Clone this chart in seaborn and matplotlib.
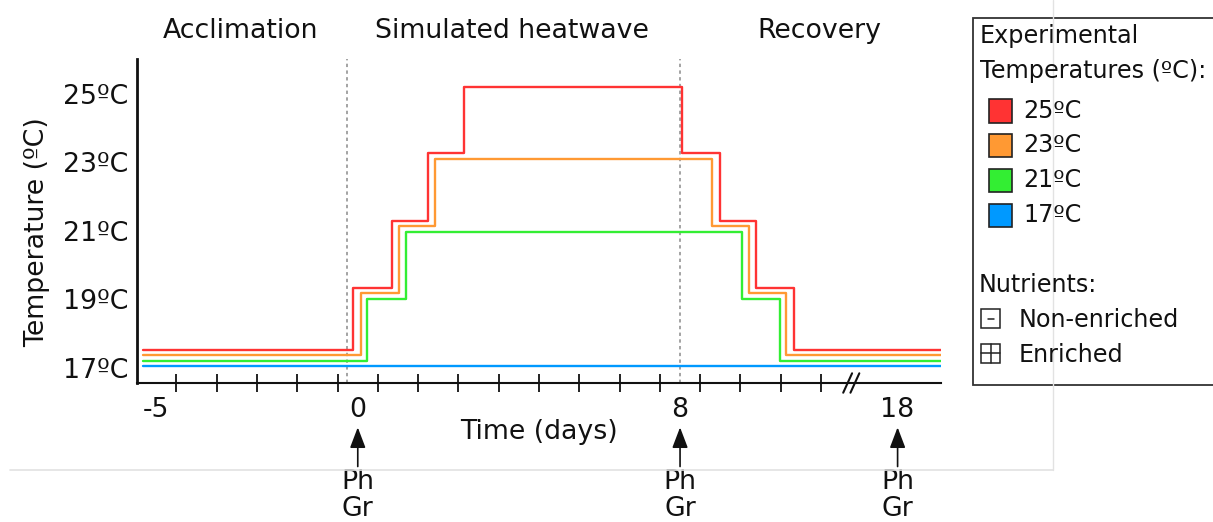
import matplotlib
matplotlib.use("Agg")
import matplotlib.pyplot as plt
from matplotlib.lines import Line2D
from matplotlib.patches import Rectangle
import numpy as np
import pandas as pd
import seaborn as sns

# ---- temperature schedules (x in days, y in ºC as drawn, steps-post) ----
red_day = [-5.33, -0.12, 0.84, 1.74, 2.64, 8.06, 8.98, 9.88, 10.83, 14.47]
red_temp = [17.53, 19.34, 21.29, 23.27, 25.21, 23.27, 21.29, 19.34, 17.53, 17.53]
orange_day = [-5.33, 0.07, 1.02, 1.91, 8.80, 9.72, 10.64, 14.47]
orange_temp = [17.38, 19.18, 21.15, 23.09, 21.15, 19.18, 17.38, 17.38]
green_day = [-5.33, 0.24, 1.20, 9.53, 10.47, 14.47]
green_temp = [17.21, 19.02, 20.96, 19.02, 17.21, 17.21]
blue_day = [-5.33, 14.47]
blue_temp = [17.06, 17.06]

series_names = ["25ºC", "23ºC", "21ºC", "17ºC"]
series_colors = ["#ff3333", "#ff9933", "#33ee33", "#0099ff"]

# axis labelling
ytick_vals = [17, 19, 21, 23, 25]
ytick_labels = ["17ºC", "19ºC", "21ºC", "23ºC", "25ºC"]
xtick_pos = [-5, 0, 8, 13.4]
xtick_labels = ["-5", "0", "8", "18"]
minor_tick_pos = np.arange(-4.5, 12.0, 1.0)
phase_lines = [-0.27, 7.99]
phases = ["Acclimation", "Simulated heatwave", "Recovery"]
phase_centers = [-2.90, 3.82, 11.45]
sampling_days = [0, 8, 13.4]
break_pos = 12.25

frames = []
for name, d, t in zip(series_names,
                      [red_day, orange_day, green_day, blue_day],
                      [red_temp, orange_temp, green_temp, blue_temp]):
    frames.append(pd.DataFrame({"day": d, "temp": t, "series": name}))
df = pd.concat(frames, ignore_index=True)

sns.set_theme(style="white")
plt.rcParams["font.family"] = ["DejaVu Sans"]
plt.rcParams["text.color"] = "#111111"

FS = 19.3
FS_KEY = 17.2

W, H = 1213, 522
fig = plt.figure(figsize=(W / 100, H / 100), dpi=100)
fig.patch.set_facecolor("white")


def fx(px):
    return px / W


def fy(py):
    return 1 - py / H


ax = fig.add_axes([fx(137), fy(383), fx(940.7) - fx(137), fy(59.3) - fy(383)])
ax.set_facecolor("white")

sns.lineplot(data=df, x="day", y="temp", hue="series", hue_order=series_names,
             palette=dict(zip(series_names, series_colors)), estimator=None,
             sort=False, drawstyle="steps-post", linewidth=1.7, legend=False,
             ax=ax, zorder=3)

ax.set_xlim(-5.48, 14.47)
ax.set_ylim(16.56, 26.01)

for xv in phase_lines:
    ax.axvline(xv, color="#8a8a8a", lw=1.1, ls=(0, (2.2, 2.2)), zorder=2)

for s in ["top", "right"]:
    ax.spines[s].set_visible(False)
ax.spines["left"].set_linewidth(2.0)
ax.spines["bottom"].set_linewidth(1.5)
ax.spines["left"].set_color("#111111")
ax.spines["bottom"].set_color("#111111")

ax.set_yticks(ytick_vals)
ax.set_yticklabels(ytick_labels)
ax.tick_params(axis="y", left=False, length=0, pad=6, labelsize=FS,
               labelcolor="#111111")

ax.set_xticks(xtick_pos)
ax.set_xticklabels(xtick_labels)
ax.set_xticks(minor_tick_pos, minor=True)
ax.tick_params(axis="x", which="major", bottom=True, length=0, pad=10,
               labelsize=FS, labelcolor="#111111")
ax.tick_params(axis="x", which="minor", bottom=True, length=13.5, width=1.3,
               direction="inout", color="#111111")

ax.set_xlabel("Time (days)", fontsize=FS, color="#111111")
ax.xaxis.set_label_coords(0.5, -0.110)
ax.set_ylabel("Temperature (ºC)", fontsize=FS, color="#111111")
ax.yaxis.set_label_coords(-0.108, 0.467)

# axis break mark
xt = ax.get_xaxis_transform()
for off in (-0.09, 0.09):
    ax.plot([break_pos + off - 0.11, break_pos + off + 0.11], [-0.03, 0.03],
            transform=xt, color="#111111", lw=1.5, clip_on=False, zorder=5)

# phase titles
for name, xc in zip(phases, phase_centers):
    ax.text(xc, 1.087, name, transform=xt, ha="center", va="center",
            fontsize=FS, color="#111111")

# sampling arrows
for xs in sampling_days:
    ax.annotate("", xy=(xs, -0.137), xycoords=xt, xytext=(xs, -0.258),
                textcoords=xt,
                arrowprops=dict(arrowstyle="-|>,head_length=1.05,head_width=0.4",
                                color="#111111", lw=1.2, shrinkA=0, shrinkB=0),
                annotation_clip=False)
    ax.text(xs, -0.305, "Ph", transform=xt, ha="center", va="center",
            fontsize=FS, color="#111111")
    ax.text(xs, -0.388, "Gr", transform=xt, ha="center", va="center",
            fontsize=FS, color="#111111")

# faint outer frame
fig.add_artist(Line2D([fx(10), fx(1053)], [fy(470), fy(470)], color="#e2e2e2",
                      lw=1.2))
fig.add_artist(Line2D([fx(1053), fx(1053)], [fy(0), fy(470)], color="#e2e2e2",
                      lw=1.0))

# key panel
fig.add_artist(Rectangle((fx(973), fy(385)), fx(1240) - fx(973),
                         fy(18) - fy(385), transform=fig.transFigure,
                         facecolor="white", edgecolor="#333333", lw=1.3,
                         zorder=1))
fig.text(fx(980), fy(36), "Experimental", ha="left", va="center",
         fontsize=FS_KEY, zorder=3)
fig.text(fx(980), fy(71), "Temperatures (ºC):", ha="left", va="center",
         fontsize=FS_KEY, zorder=3)
key_y = [111, 145.5, 180.5, 215.5]
for name, col, yc in zip(series_names, series_colors, key_y):
    fig.add_artist(Rectangle((fx(989), fy(yc + 11.5)), fx(23), 23 / H,
                             transform=fig.transFigure, facecolor=col,
                             edgecolor="#222222", lw=1.2, zorder=3))
    fig.text(fx(1023), fy(yc), name, ha="left", va="center", fontsize=FS_KEY,
             zorder=3)

fig.text(fx(979), fy(285), "Nutrients:", ha="left", va="center",
         fontsize=FS_KEY, zorder=3)
for yc, label, plus in [(318.5, "Non-enriched", False), (353, "Enriched", True)]:
    fig.add_artist(Rectangle((fx(981), fy(yc + 9.5)), fx(19), 19 / H,
                             transform=fig.transFigure, facecolor="white",
                             edgecolor="#222222", lw=1.1, zorder=3))
    if plus:
        fig.add_artist(Line2D([fx(981), fx(1000)], [fy(yc), fy(yc)],
                              color="#222222", lw=1.1, zorder=4))
        fig.add_artist(Line2D([fx(990.5), fx(990.5)], [fy(yc - 9.5), fy(yc + 9.5)],
                              color="#222222", lw=1.1, zorder=4))
    else:
        fig.add_artist(Line2D([fx(987.5), fx(993.5)], [fy(yc), fy(yc)],
                              color="#222222", lw=1.1, zorder=4))
    fig.text(fx(1019), fy(yc + 1.5), label, ha="left", va="center",
             fontsize=FS_KEY, zorder=3)

fig.savefig("out.png", dpi=100, facecolor="white")
